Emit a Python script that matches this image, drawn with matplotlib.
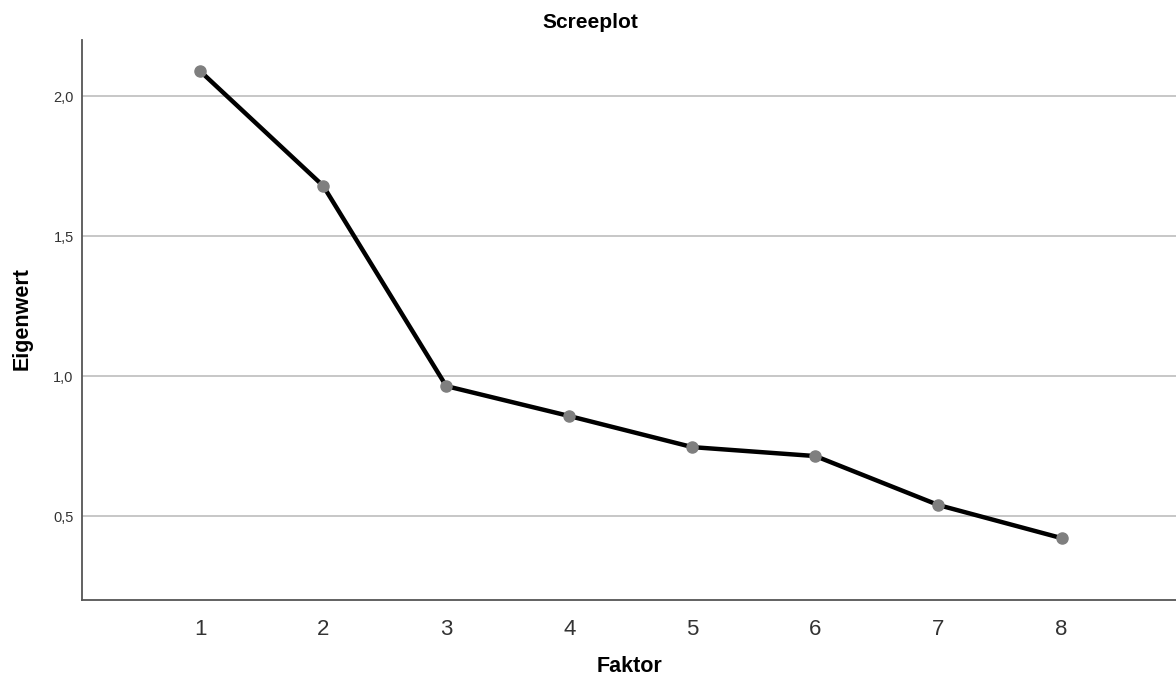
import matplotlib
matplotlib.use('Agg')
import matplotlib.pyplot as plt

faktoren = [1, 2, 3, 4, 5, 6, 7, 8]
eigenwerte = [2.089, 1.679, 0.964, 0.857, 0.746, 0.714, 0.539, 0.421]
y_ticks = [0.5, 1.0, 1.5, 2.0]
y_labels = ['0,5', '1,0', '1,5', '2,0']

plt.rcParams['font.family'] = ['Liberation Sans', 'DejaVu Sans']

fig = plt.figure(figsize=(11.76, 6.8), dpi=100)
ax = fig.add_axes([82 / 1176, 80 / 680, 1 - 82 / 1176, 560 / 680])

ax.plot(faktoren, eigenwerte, color='black', linewidth=3.2, zorder=3)
ax.plot(faktoren, eigenwerte, linestyle='none', marker='o', markersize=8,
        color='#7f7f7f', zorder=4)

ax.set_xlim(0.04, 8.93)
ax.set_ylim(0.2, 2.2)
ax.set_xticks(faktoren)
ax.set_xticklabels([str(f) for f in faktoren], fontsize=16, color='#333333')
ax.set_yticks(y_ticks)
ax.set_yticklabels(y_labels, fontsize=10.5, color='#333333')
ax.tick_params(length=0)
ax.tick_params(axis='x', pad=14)
ax.tick_params(axis='y', pad=6)

ax.grid(axis='y', color='#bdbdbd', linewidth=1.2)
ax.set_axisbelow(True)

for side in ['top', 'right']:
    ax.spines[side].set_visible(False)
for side in ['left', 'bottom']:
    ax.spines[side].set_color('#555555')
    ax.spines[side].set_linewidth(1.3)

# Achsentitel und Diagrammtitel an festen Positionen wie in SPSS
fig.text(630 / 1176, 1 - 667 / 680, 'Faktor', fontsize=15.5, weight='bold',
         ha='center', va='center')
fig.text(22 / 1176, 1 - 319 / 680, 'Eigenwert', fontsize=15.5, weight='bold',
         ha='center', va='center', rotation=90)
fig.text(590 / 1176, 1 - 22 / 680, 'Screeplot', fontsize=15, weight='bold',
         ha='center', va='center')

plt.savefig('out.png', dpi=100)
plt.close()
